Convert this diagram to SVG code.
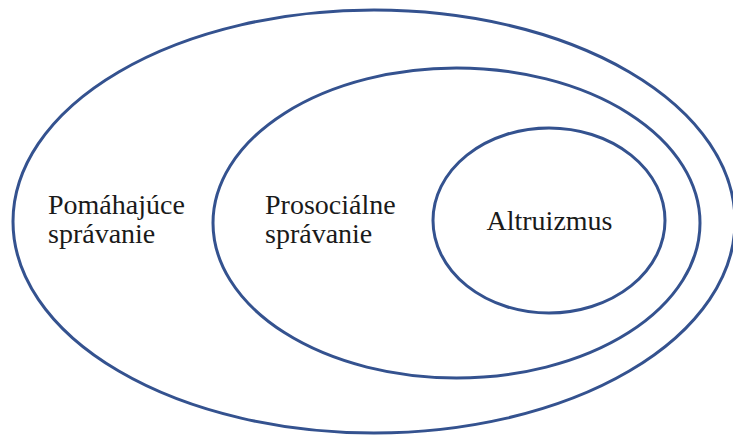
<svg xmlns="http://www.w3.org/2000/svg" width="733" height="435" viewBox="0 0 733 435">
  <style>
    .ring { fill: none; stroke: #34528f; stroke-width: 3; }
    .lbl { font-family: "Liberation Serif", "DejaVu Serif", serif; font-size: 28px; fill: #1a1a1a; }
  </style>
  <rect width="733" height="435" fill="#ffffff"/>
  <g id="outer">
    <ellipse class="ring" cx="374" cy="221.5" rx="361" ry="211.5"/>
    <text class="lbl" x="48" y="214">Pomáhajúce</text>
    <text class="lbl" x="48" y="243">správanie</text>
  </g>
  <g id="middle">
    <ellipse class="ring" cx="456.5" cy="223" rx="243.5" ry="155"/>
    <text class="lbl" x="265" y="214">Prosociálne</text>
    <text class="lbl" x="265" y="243">správanie</text>
  </g>
  <g id="inner">
    <ellipse class="ring" cx="549" cy="220.5" rx="116" ry="92.5"/>
    <text class="lbl" x="549.5" y="230" text-anchor="middle">Altruizmus</text>
  </g>
  <g id="connectors"></g>
</svg>
